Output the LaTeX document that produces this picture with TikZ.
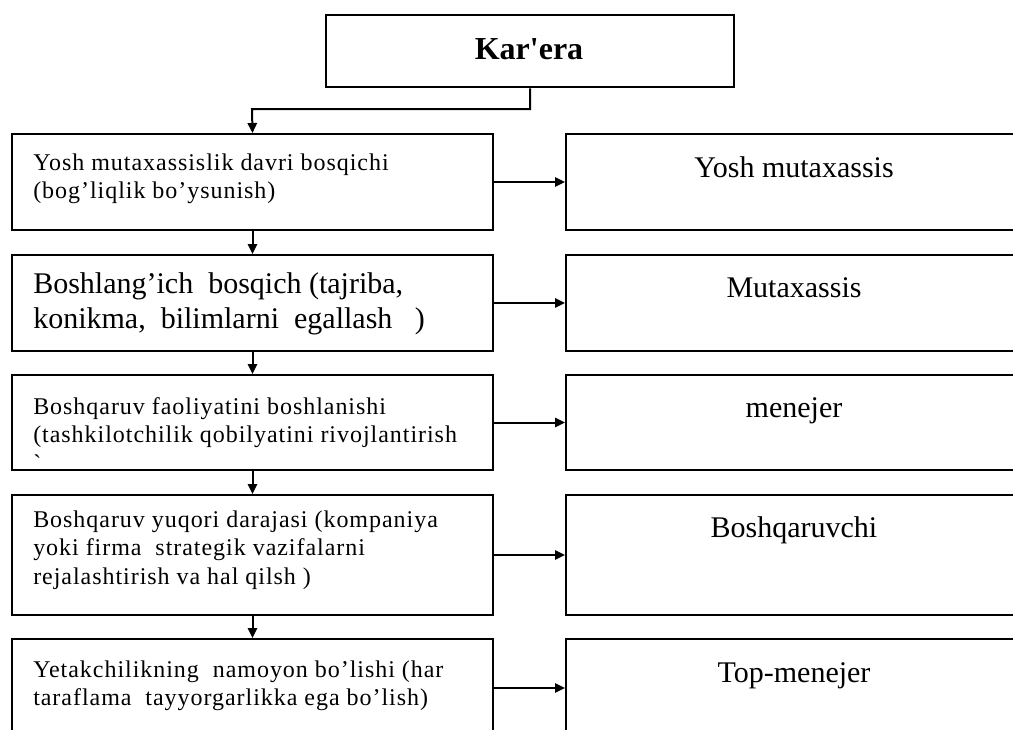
\documentclass[tikz,border=0pt]{standalone}
\usepackage{fontspec}
\usetikzlibrary{arrows.meta}
\newfontfamily\tnr{Liberation Serif}
\newfontfamily\tnrsp[LetterSpace=4]{Liberation Serif}
\newfontfamily\tnrbold{Liberation Serif Bold}
\begin{document}
\begin{tikzpicture}[x=0.75pt,y=-0.75pt,
  box/.style 2 args={draw, line width=1.5pt, rectangle, inner sep=0pt,
    anchor=north west, minimum width=#1*0.75pt, minimum height=#2*0.75pt},
  arr/.style={line width=1.5pt, -{Triangle[length=7.5pt,width=7pt]}},
  smalltext/.style={anchor=base west, inner sep=0pt,
    font=\tnrsp\fontsize{18pt}{21.4pt}\selectfont},
  bigtext/.style={anchor=base west, inner sep=0pt,
    font=\tnr\fontsize{22.5pt}{26.25pt}\selectfont},
  roletext/.style={anchor=base, inner sep=0pt,
    font=\tnr\fontsize{22.5pt}{26pt}\selectfont},
  titletext/.style={anchor=base, inner sep=0pt,
    font=\tnrbold\fontsize{24pt}{28pt}\selectfont}]
\useasboundingbox (0,0) rectangle (1013,729);
\clip (0,0) rectangle (1013,729);

% title box
\node[box={408}{72}, line width=1.8pt] (top) at (325,14) {};
\node[titletext] (ttl) at (529,59) {Kar'era};

% stages (left column)
\node[box={481}{96}]  (b1) at (11,133) {};
\node[box={481}{96}]  (b2) at (11,254) {};
\node[box={481}{95}]  (b3) at (11,374) {};
\node[box={481}{120}] (b4) at (11,494) {};
\node[box={481}{98}]  (b5) at (11,638) {};

% roles (right column)
\node[box={458}{96}]  (r1) at (565,133) {};
\node[box={458}{96}]  (r2) at (565,254) {};
\node[box={458}{95}]  (r3) at (565,374) {};
\node[box={458}{120}] (r4) at (565,494) {};
\node[box={458}{98}]  (r5) at (565,638) {};

% stage texts
\node[smalltext] (t1) at (33,170) {\parbox[t]{440pt}{Yosh mutaxassislik davri bosqichi\\(bog’liqlik bo’ysunish)}};
\node[bigtext] (t2) at (33,293) {\parbox[t]{440pt}{Boshlang’ich~ bosqich (tajriba,\\konikma,~ bilimlarni~ egallash~~ )}};
\node[smalltext] (t3) at (33,414) {\parbox[t]{440pt}{Boshqaruv faoliyatini boshlanishi\\(tashkilotchilik qobilyatini rivojlantirish\\`}};
\node[smalltext] (t4) at (33,527) {\parbox[t]{440pt}{Boshqaruv yuqori darajasi (kompaniya\\yoki firma~ strategik vazifalarni\\rejalashtirish va hal qilsh )}};
\node[smalltext] (t5) at (33,677) {\parbox[t]{440pt}{Yetakchilikning~ namoyon bo’lishi (har\\taraflama~ tayyorgarlikka ega bo’lish)}};

% role texts
\node[roletext] (u1) at (794,177) {Yosh mutaxassis};
\node[roletext] (u2) at (794,297) {Mutaxassis};
\node[roletext] (u3) at (794,417) {menejer};
\node[roletext] (u4) at (794,537) {Boshqaruvchi};
\node[roletext] (u5) at (794,682) {Top-menejer};

% connectors
\coordinate (j) at (252,109);
\draw[arr] (top.south) |- (j) -- (b1.north);
\draw[arr] (b1.south) -- (b2.north);
\draw[arr] (b2.south) -- (b3.north);
\draw[arr] (b3.south) -- (b4.north);
\draw[arr] (b4.south) -- (b5.north);
\draw[arr] (b1.east) -- (r1.west);
\draw[arr] (b2.east) -- (r2.west);
\draw[arr] (b3.east) -- (r3.west);
\draw[arr] (b4.east) -- (r4.west);
\draw[arr] (b5.east) -- (r5.west);
\end{tikzpicture}
\end{document}
